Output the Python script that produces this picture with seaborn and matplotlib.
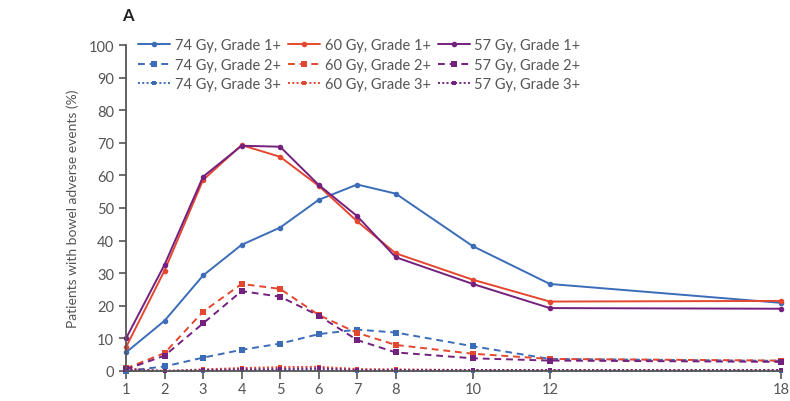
import matplotlib
matplotlib.use("Agg")
import matplotlib.pyplot as plt
import seaborn as sns
import pandas as pd

## months after start of radiotherapy
months = [1, 2, 3, 4, 5, 6, 7, 8, 10, 12, 18]

## patients with bowel adverse events (%)
gy74_g1 = [5.7, 15.4, 29.3, 38.7, 44.0, 52.5, 57.2, 54.4, 38.3, 26.7, 20.9]
gy74_g2 = [0.0, 1.4, 4.1, 6.5, 8.4, 11.3, 12.7, 11.8, 7.6, 3.7, 3.1]
gy74_g3 = [0.0, 0.0, 0.0, 0.3, 0.3, 0.3, 0.0, 0.0, 0.0, 0.0, 0.0]

gy60_g1 = [7.3, 30.8, 58.6, 69.3, 65.7, 56.8, 45.9, 36.1, 28.0, 21.3, 21.5]
gy60_g2 = [0.8, 5.5, 18.2, 26.7, 25.2, 17.2, 11.7, 8.0, 5.3, 3.7, 3.2]
gy60_g3 = [0.8, 0.0, 0.5, 0.9, 1.2, 1.3, 0.6, 0.5, 0.3, 0.3, 0.3]

gy57_g1 = [10.0, 32.6, 59.6, 69.1, 68.8, 57.1, 47.5, 34.9, 26.7, 19.3, 19.1]
gy57_g2 = [0.5, 4.7, 14.6, 24.5, 22.8, 17.0, 9.5, 5.7, 3.9, 3.2, 2.8]
gy57_g3 = [0.5, 0.0, 0.3, 0.5, 0.6, 0.8, 0.3, 0.3, 0.3, 0.3, 0.3]

doses = ["74 Gy", "60 Gy", "57 Gy"]
grades = ["Grade 1+", "Grade 2+", "Grade 3+"]
series = {
    ("74 Gy", "Grade 1+"): gy74_g1, ("74 Gy", "Grade 2+"): gy74_g2, ("74 Gy", "Grade 3+"): gy74_g3,
    ("60 Gy", "Grade 1+"): gy60_g1, ("60 Gy", "Grade 2+"): gy60_g2, ("60 Gy", "Grade 3+"): gy60_g3,
    ("57 Gy", "Grade 1+"): gy57_g1, ("57 Gy", "Grade 2+"): gy57_g2, ("57 Gy", "Grade 3+"): gy57_g3,
}

colors = {"74 Gy": "#3b6cb7", "60 Gy": "#e4472f", "57 Gy": "#74207f"}
line_styles = {"Grade 1+": "-", "Grade 2+": (0, (3.5, 2.5)), "Grade 3+": (0, (1, 1.2))}
marks = {"Grade 1+": "o", "Grade 2+": "s", "Grade 3+": "s"}
mark_sizes = {"Grade 1+": 4, "Grade 2+": 4.5, "Grade 3+": 3.5}

sns.set_style("ticks")
plt.rcParams["font.family"] = ["Lato", "DejaVu Sans"]

grey = "#555555"
fig = plt.figure(figsize=(7.9, 4.02), dpi=100)
ax = fig.add_axes([126 / 790, 30 / 402, 655 / 790, 326 / 402])

for dose in doses:
    for grade in grades:
        df = pd.DataFrame({"month": months, "pct": series[(dose, grade)]})
        sns.lineplot(data=df, x="month", y="pct", ax=ax, color=colors[dose],
                     linestyle=line_styles[grade], marker=marks[grade],
                     markersize=mark_sizes[grade], markeredgewidth=0,
                     linewidth=1.4, label=f"{dose}, {grade}", clip_on=False)

ax.set_xlim(1, 18)
ax.set_ylim(0, 100)
ax.set_xticks(months)
ax.set_yticks(range(0, 101, 10))
ax.set_xlabel("")
ax.set_ylabel("Patients with bowel adverse events (%)", fontsize=10, color=grey, labelpad=7)
ax.tick_params(axis="both", colors=grey, labelsize=10.5, length=5, width=1.2)
ax.tick_params(axis="x", length=6, pad=2)
for s in ["left", "bottom"]:
    ax.spines[s].set_color(grey)
    ax.spines[s].set_linewidth(1.3)
sns.despine(ax=ax)

ax.legend(loc="upper left", bbox_to_anchor=(0.01, 1.04), ncol=3, frameon=False,
          fontsize=10.5, handlelength=2.2, handletextpad=0.3, columnspacing=0.5,
          labelspacing=0.4, labelcolor=grey, borderaxespad=0)

fig.text(122 / 790, 1 - 16 / 402, "A", fontsize=12, fontweight="bold", color="#222222",
         va="center", ha="left")

fig.savefig("out.png", dpi=100)
